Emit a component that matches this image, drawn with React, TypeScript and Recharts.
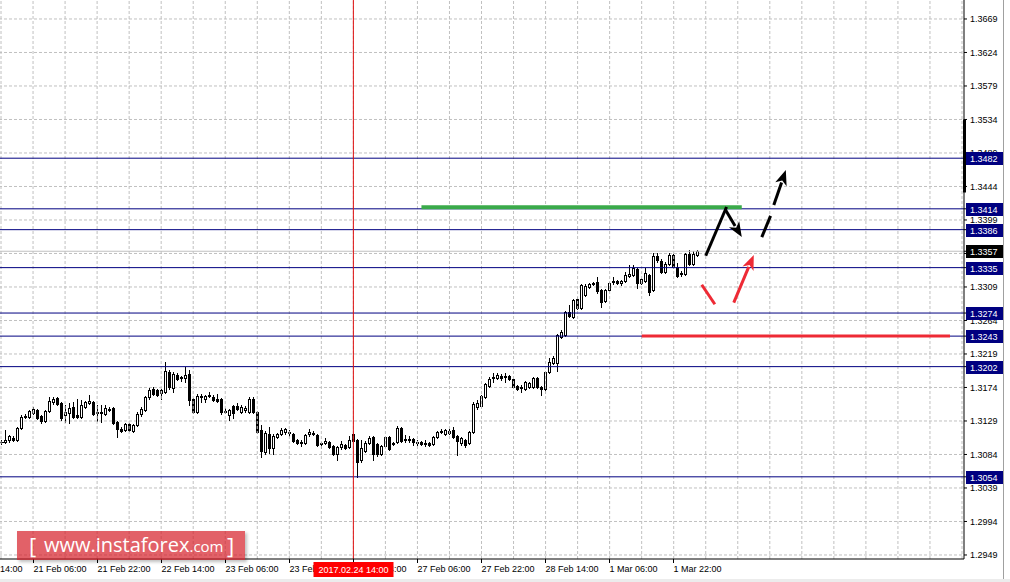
import React from 'react';
import { ComposedChart, Bar, XAxis, YAxis, CartesianGrid, ReferenceLine } from 'recharts';

// H1 candles, 20 Feb 22:00 .. 2 Mar 04:00
const opens = [
  1.3101, 1.3101, 1.3104, 1.3106, 1.3104, 1.3120, 1.3134, 1.3134, 1.3140, 1.3144,
  1.3136, 1.3129, 1.3143, 1.3155, 1.3160, 1.3153, 1.3137, 1.3140, 1.3148, 1.3137,
  1.3134, 1.3148, 1.3153, 1.3155, 1.3140, 1.3141, 1.3138, 1.3145, 1.3147, 1.3128,
  1.3118, 1.3117, 1.3125, 1.3116, 1.3124, 1.3138, 1.3144, 1.3161, 1.3172, 1.3171,
  1.3167, 1.3168, 1.3195, 1.3173, 1.3191, 1.3187, 1.3187, 1.3192, 1.3159, 1.3141,
  1.3163, 1.3159, 1.3163, 1.3161, 1.3159, 1.3159, 1.3141, 1.3137, 1.3149, 1.3149,
  1.3141, 1.3144, 1.3141, 1.3159, 1.3141, 1.3117, 1.3087, 1.3112, 1.3093, 1.3108,
  1.3112, 1.3114, 1.3114, 1.3112, 1.3104, 1.3100, 1.3100, 1.3112, 1.3113, 1.3110,
  1.3098, 1.3100, 1.3101, 1.3096, 1.3085, 1.3094, 1.3097, 1.3094, 1.3112, 1.3104,
  1.3077, 1.3089, 1.3100, 1.3108, 1.3098, 1.3085, 1.3096, 1.3108, 1.3100, 1.3101,
  1.3120, 1.3104, 1.3105, 1.3105, 1.3101, 1.3101, 1.3098, 1.3100, 1.3098, 1.3108,
  1.3114, 1.3112, 1.3113, 1.3117, 1.3109, 1.3100, 1.3104, 1.3100, 1.3114, 1.3148,
  1.3149, 1.3161, 1.3176, 1.3187, 1.3187, 1.3190, 1.3188, 1.3190, 1.3186, 1.3176,
  1.3173, 1.3172, 1.3175, 1.3175, 1.3187, 1.3175, 1.3172, 1.3195, 1.3207, 1.3207,
  1.3242, 1.3245, 1.3275, 1.3269, 1.3293, 1.3281, 1.3298, 1.3309, 1.3313, 1.3316,
  1.3305, 1.3290, 1.3305, 1.3316, 1.3317, 1.3314, 1.3317, 1.3324, 1.3325, 1.3333,
  1.3314, 1.3317, 1.3325, 1.3305, 1.3351, 1.3344, 1.3329, 1.3340, 1.3352, 1.3336,
  1.3327, 1.3327, 1.3353, 1.3340, 1.3352,
];
const highs = [
  1.3104, 1.3117, 1.3110, 1.3109, 1.3121, 1.3137, 1.3138, 1.3144, 1.3148, 1.3145,
  1.3137, 1.3144, 1.3161, 1.3161, 1.3161, 1.3155, 1.3151, 1.3153, 1.3155, 1.3159,
  1.3157, 1.3156, 1.3164, 1.3156, 1.3151, 1.3151, 1.3151, 1.3148, 1.3148, 1.3129,
  1.3121, 1.3126, 1.3126, 1.3125, 1.3141, 1.3148, 1.3163, 1.3173, 1.3175, 1.3172,
  1.3172, 1.3208, 1.3198, 1.3195, 1.3194, 1.3190, 1.3202, 1.3198, 1.3160, 1.3165,
  1.3165, 1.3164, 1.3168, 1.3164, 1.3165, 1.3160, 1.3147, 1.3145, 1.3151, 1.3153,
  1.3151, 1.3149, 1.3161, 1.3161, 1.3143, 1.3124, 1.3116, 1.3121, 1.3112, 1.3113,
  1.3120, 1.3120, 1.3117, 1.3113, 1.3105, 1.3104, 1.3112, 1.3118, 1.3116, 1.3112,
  1.3101, 1.3106, 1.3102, 1.3097, 1.3096, 1.3102, 1.3098, 1.3109, 1.3113, 1.3105,
  1.3104, 1.3102, 1.3109, 1.3109, 1.3100, 1.3097, 1.3109, 1.3109, 1.3101, 1.3122,
  1.3121, 1.3110, 1.3109, 1.3106, 1.3104, 1.3102, 1.3104, 1.3101, 1.3109, 1.3116,
  1.3118, 1.3118, 1.3118, 1.3121, 1.3110, 1.3108, 1.3105, 1.3116, 1.3155, 1.3157,
  1.3164, 1.3180, 1.3188, 1.3194, 1.3194, 1.3192, 1.3194, 1.3191, 1.3187, 1.3177,
  1.3177, 1.3183, 1.3181, 1.3188, 1.3188, 1.3176, 1.3196, 1.3214, 1.3216, 1.3246,
  1.3251, 1.3277, 1.3285, 1.3293, 1.3296, 1.3313, 1.3313, 1.3314, 1.3316, 1.3322,
  1.3306, 1.3306, 1.3316, 1.3322, 1.3318, 1.3318, 1.3329, 1.3339, 1.3339, 1.3335,
  1.3321, 1.3335, 1.3327, 1.3355, 1.3355, 1.3347, 1.3343, 1.3355, 1.3353, 1.3341,
  1.3331, 1.3355, 1.3359, 1.3357, 1.3359,
];
const lows = [
  1.3098, 1.3100, 1.3101, 1.3102, 1.3102, 1.3118, 1.3133, 1.3133, 1.3138, 1.3132,
  1.3126, 1.3128, 1.3141, 1.3152, 1.3151, 1.3130, 1.3128, 1.3126, 1.3133, 1.3133,
  1.3133, 1.3147, 1.3152, 1.3137, 1.3129, 1.3128, 1.3137, 1.3143, 1.3125, 1.3108,
  1.3114, 1.3116, 1.3116, 1.3114, 1.3122, 1.3136, 1.3143, 1.3159, 1.3164, 1.3163,
  1.3159, 1.3167, 1.3172, 1.3168, 1.3184, 1.3183, 1.3181, 1.3151, 1.3140, 1.3140,
  1.3155, 1.3155, 1.3161, 1.3156, 1.3155, 1.3138, 1.3140, 1.3130, 1.3133, 1.3144,
  1.3140, 1.3141, 1.3140, 1.3140, 1.3113, 1.3081, 1.3085, 1.3086, 1.3085, 1.3106,
  1.3110, 1.3112, 1.3109, 1.3101, 1.3098, 1.3096, 1.3098, 1.3109, 1.3110, 1.3096,
  1.3093, 1.3098, 1.3093, 1.3083, 1.3077, 1.3091, 1.3091, 1.3093, 1.3101, 1.3054,
  1.3074, 1.3087, 1.3098, 1.3077, 1.3082, 1.3083, 1.3094, 1.3090, 1.3097, 1.3100,
  1.3101, 1.3101, 1.3101, 1.3097, 1.3097, 1.3097, 1.3096, 1.3096, 1.3097, 1.3106,
  1.3113, 1.3110, 1.3112, 1.3106, 1.3083, 1.3097, 1.3094, 1.3098, 1.3113, 1.3145,
  1.3148, 1.3160, 1.3175, 1.3181, 1.3186, 1.3184, 1.3181, 1.3184, 1.3173, 1.3171,
  1.3168, 1.3171, 1.3173, 1.3173, 1.3173, 1.3164, 1.3167, 1.3194, 1.3206, 1.3196,
  1.3241, 1.3243, 1.3269, 1.3267, 1.3280, 1.3280, 1.3297, 1.3308, 1.3312, 1.3301,
  1.3282, 1.3289, 1.3304, 1.3313, 1.3313, 1.3312, 1.3316, 1.3322, 1.3324, 1.3308,
  1.3313, 1.3316, 1.3298, 1.3304, 1.3343, 1.3328, 1.3328, 1.3339, 1.3335, 1.3322,
  1.3324, 1.3325, 1.3339, 1.3339, 1.3351,
];
const closes = [
  1.3101, 1.3104, 1.3109, 1.3104, 1.3120, 1.3134, 1.3136, 1.3143, 1.3145, 1.3133,
  1.3129, 1.3143, 1.3156, 1.3159, 1.3152, 1.3133, 1.3141, 1.3147, 1.3134, 1.3134,
  1.3151, 1.3155, 1.3156, 1.3138, 1.3141, 1.3140, 1.3147, 1.3144, 1.3126, 1.3118,
  1.3116, 1.3125, 1.3117, 1.3124, 1.3138, 1.3145, 1.3161, 1.3171, 1.3165, 1.3164,
  1.3171, 1.3196, 1.3175, 1.3192, 1.3186, 1.3188, 1.3191, 1.3157, 1.3141, 1.3163,
  1.3161, 1.3163, 1.3164, 1.3157, 1.3156, 1.3141, 1.3143, 1.3144, 1.3140, 1.3145,
  1.3148, 1.3147, 1.3159, 1.3141, 1.3114, 1.3089, 1.3113, 1.3093, 1.3109, 1.3112,
  1.3117, 1.3118, 1.3113, 1.3102, 1.3100, 1.3101, 1.3110, 1.3114, 1.3112, 1.3097,
  1.3100, 1.3102, 1.3094, 1.3085, 1.3094, 1.3098, 1.3093, 1.3104, 1.3102, 1.3074,
  1.3093, 1.3100, 1.3106, 1.3085, 1.3085, 1.3096, 1.3108, 1.3091, 1.3098, 1.3120,
  1.3102, 1.3105, 1.3104, 1.3101, 1.3100, 1.3098, 1.3100, 1.3097, 1.3108, 1.3114,
  1.3116, 1.3117, 1.3116, 1.3108, 1.3102, 1.3106, 1.3097, 1.3114, 1.3152, 1.3153,
  1.3163, 1.3179, 1.3186, 1.3188, 1.3191, 1.3187, 1.3189, 1.3186, 1.3175, 1.3172,
  1.3175, 1.3181, 1.3180, 1.3187, 1.3175, 1.3172, 1.3195, 1.3208, 1.3214, 1.3245,
  1.3249, 1.3275, 1.3270, 1.3292, 1.3281, 1.3312, 1.3310, 1.3313, 1.3314, 1.3304,
  1.3289, 1.3305, 1.3314, 1.3317, 1.3314, 1.3317, 1.3325, 1.3327, 1.3335, 1.3314,
  1.3320, 1.3328, 1.3302, 1.3351, 1.3345, 1.3329, 1.3340, 1.3352, 1.3336, 1.3324,
  1.3328, 1.3353, 1.3340, 1.3353, 1.3357,
];

const SLOTS = 241; // bars that fit the window, incl. empty space on the right

const timeTicks = [0, 8, 24, 40, 56, 72, 88, 104, 120, 136, 152, 168];
const timeLabels = [
  '20 Feb 14:00', '21 Feb 06:00', '21 Feb 22:00', '22 Feb 14:00', '23 Feb 06:00', '23 Feb 22:00',
  '24 Feb 14:00', '27 Feb 06:00', '27 Feb 22:00', '28 Feb 14:00', '1 Mar 06:00', '1 Mar 22:00',
];
const cursorIdx = 88;
const cursorLabel = '2017.02.24 14:00';

const priceTicks = [
  1.2949, 1.2994, 1.3039, 1.3084, 1.3129, 1.3174, 1.3219, 1.3264, 1.3309,
  1.3354, 1.3399, 1.3444, 1.3489, 1.3534, 1.3579, 1.3624, 1.3669,
];
const levels = [1.3482, 1.3414, 1.3386, 1.3335, 1.3274, 1.3243, 1.3202, 1.3054];
const bid = 1.3357;

const resistance = { from: 105, to: 185, price: 1.3416 };
const support = { from: 160, to: 237, price: 1.3243 };

// scenario arrows: [x index, price] pairs
const blackUp = [[176, 1.3351], [181, 1.3414]];
const blackDown = [[181, 1.3412], [185, 1.3376]];
const blackDash1 = [[190, 1.3376], [192, 1.3402]];
const blackDash2 = [[193, 1.3419], [196, 1.3466]];
const redDown = [[175, 1.3312], [178, 1.3288]];
const redUp = [[183, 1.3288], [188, 1.3352]];

const rows = Array.from({ length: SLOTS }, (_, i) =>
  i < opens.length
    ? { i, o: opens[i], h: highs[i], l: lows[i], c: closes[i], range: [lows[i], highs[i]] }
    : { i, range: null }
);

// grid ticks first, price tags last so the tags cover the labels under them
const axisTicks = [...priceTicks, bid, ...levels];

const FONT = '"Liberation Sans", Arial, sans-serif';
const GRID = '#c0c0c0';
const NAVY = '#000080';

function Candle(props: any) {
  const { x, y, width, height, payload } = props;
  if (!payload || payload.o == null) return null;
  const { o, h, l, c } = payload;
  const top = Math.min(y, y + height);
  const span = Math.abs(height);
  const py = (p: number) => (h === l ? top : top + ((h - p) / (h - l)) * span);
  const cx = Math.floor(x + width / 2) + 0.5;
  const bTop = Math.round(py(Math.max(o, c))) + 0.5;
  const bBot = Math.round(py(Math.min(o, c))) + 0.5;
  const bull = c >= o;
  return (
    <g shapeRendering="crispEdges">
      <line x1={cx} x2={cx} y1={Math.round(top)} y2={Math.round(top + span) + 1} stroke="#000" />
      {bBot - bTop < 1 ? (
        <line x1={cx - 2} x2={cx + 2} y1={bTop} y2={bTop} stroke="#000" />
      ) : (
        <rect x={cx - 1} y={bTop} width={2} height={bBot - bTop} fill={bull ? '#fff' : '#000'} stroke="#000" />
      )}
    </g>
  );
}

function PriceTick(props: any) {
  const { x, y, payload } = props;
  const v = payload.value as number;
  const isLevel = levels.includes(v);
  if (isLevel || v === bid) {
    const by = Math.round(y) - 6;
    return (
      <g>
        <rect x={x - 1} y={by} width={37} height={13} fill={isLevel ? NAVY : '#000'} />
        <text x={x + 3} y={by + 10} fontSize={9} fontFamily={FONT} fill="#fff">
          {v.toFixed(4)}
        </text>
      </g>
    );
  }
  return (
    <g>
      {v === 1.3534 && <rect x={x - 4} y={y} width={3} height={73} fill="#000" />}
      <text x={x + 3} y={y + 3.5} fontSize={9} fontFamily={FONT} fill="#000">
        {v.toFixed(4)}
      </text>
    </g>
  );
}

function TimeTick(props: any) {
  const { x, y, payload } = props;
  const k = timeTicks.indexOf(payload.value);
  const tx = Math.floor(x) + 0.5;
  const first = payload.value === 0;
  return (
    <g>
      {!first && <line x1={tx} x2={tx} y1={y} y2={y + 4} stroke="#000" shapeRendering="crispEdges" />}
      <text x={first ? tx - 32 : tx} y={y + 13} fontSize={9} fontFamily={FONT} fill="#000">
        {timeLabels[k]}
      </text>
      {payload.value === cursorIdx && (
        <g>
          <rect x={tx - 40} y={y + 3} width={80} height={15} fill="#ff0000" />
          <text x={tx} y={y + 14} fontSize={9} fontFamily={FONT} fill="#fff" textAnchor="middle">
            {cursorLabel}
          </text>
        </g>
      )}
    </g>
  );
}

function Arrow(props: any) {
  const { x1, y1, x2, y2, color, head } = props;
  if (x1 == null) return null;
  const dx = x2 - x1;
  const dy = y2 - y1;
  const len = Math.sqrt(dx * dx + dy * dy) || 1;
  const ux = dx / len;
  const uy = dy / len;
  const hl = head ? 15 : 0;
  const hw = 6;
  const bx = x2 - ux * hl;
  const by = y2 - uy * hl;
  return (
    <g>
      <line x1={x1} y1={y1} x2={bx + ux * 2} y2={by + uy * 2} stroke={color} strokeWidth={3} />
      {head && (
        <polygon
          points={`${x2},${y2} ${bx - uy * hw},${by + ux * hw} ${bx + ux * 4},${by + uy * 4} ${bx + uy * hw},${by - ux * hw}`}
          fill={color}
        />
      )}
    </g>
  );
}

const seg = (pts: number[][]) => pts.map(([x, y]) => ({ x, y }));

export default function App() {
  const gridIdx = Array.from({ length: 31 }, (_, k) => k * 8);
  return (
    <div style={{ position: 'absolute', left: 0, top: 0, width: 1010, height: 582, background: '#fff', overflow: 'hidden' }}>
      <ComposedChart
        width={1010}
        height={582}
        data={rows}
        margin={{ top: 0, right: 0, left: -1, bottom: 0 }}
        barCategoryGap={0}
      >
        <CartesianGrid vertical={false} stroke={GRID} strokeDasharray="3 2" horizontalValues={priceTicks} />
        {gridIdx.map((g) => (
          <ReferenceLine key={`g${g}`} x={g} stroke={GRID} strokeDasharray="3 2" />
        ))}
        <XAxis
          dataKey="i"
          type="category"
          height={23}
          ticks={timeTicks}
          interval={0}
          tickLine={false}
          tickSize={0}
          tickMargin={0}
          axisLine={{ stroke: '#000' }}
          tick={<TimeTick />}
        />
        <YAxis
          orientation="right"
          type="number"
          width={46}
          domain={[1.29436, 1.36945]}
          allowDataOverflow
          ticks={axisTicks}
          interval={0}
          tickSize={3}
          tickMargin={0}
          tickLine={{ stroke: '#000' }}
          axisLine={{ stroke: '#000' }}
          tick={<PriceTick />}
        />
        <ReferenceLine y={bid} stroke="#c0c0c0" />
        {levels.map((lv) => (
          <ReferenceLine key={`l${lv}`} y={lv} stroke={NAVY} />
        ))}
        <ReferenceLine x={cursorIdx} stroke="#e01010" />
        <Bar dataKey="range" shape={<Candle />} isAnimationActive={false} />
        <ReferenceLine
          segment={[{ x: resistance.from, y: resistance.price }, { x: resistance.to, y: resistance.price }]}
          stroke="#3aaa4a"
          strokeWidth={4}
        />
        <ReferenceLine
          segment={[{ x: support.from, y: support.price }, { x: support.to, y: support.price }]}
          stroke="#ee2a35"
          strokeWidth={3}
        />
        <ReferenceLine segment={seg(blackUp)} shape={<Arrow color="#000" />} />
        <ReferenceLine segment={seg(blackDown)} shape={<Arrow color="#000" head />} />
        <ReferenceLine segment={seg(blackDash1)} shape={<Arrow color="#000" />} />
        <ReferenceLine segment={seg(blackDash2)} shape={<Arrow color="#000" head />} />
        <ReferenceLine segment={seg(redDown)} shape={<Arrow color="#ee2a35" />} />
        <ReferenceLine segment={seg(redUp)} shape={<Arrow color="#ee2a35" head />} />
      </ComposedChart>

      <div style={{ position: 'absolute', left: 1003, top: 0, width: 7, height: 582, borderLeft: '1px solid #a0a0a0', background: '#fff' }} />
      <div style={{ position: 'absolute', left: 0, top: 579, width: 1010, height: 3, background: '#ececec' }} />

      <div
        style={{
          position: 'absolute',
          left: 17,
          top: 531,
          width: 228,
          height: 29,
          background: 'rgba(214, 30, 40, 0.7)',
          boxShadow: '2px 2px 3px rgba(0,0,0,0.25)',
          color: '#fff',
          fontFamily: '"Open Sans", sans-serif',
        }}
      >
        <span style={{ position: 'absolute', left: 12, top: 0, fontSize: 22, lineHeight: '28px' }}>[</span>
        <span style={{ position: 'absolute', left: 27, top: 1, fontSize: 20, lineHeight: '26px', whiteSpace: 'nowrap' }}>
          www.instaforex<span style={{ fontSize: 15 }}>.com</span>
        </span>
        <span style={{ position: 'absolute', left: 210, top: 0, fontSize: 22, lineHeight: '28px' }}>]</span>
      </div>
    </div>
  );
}
